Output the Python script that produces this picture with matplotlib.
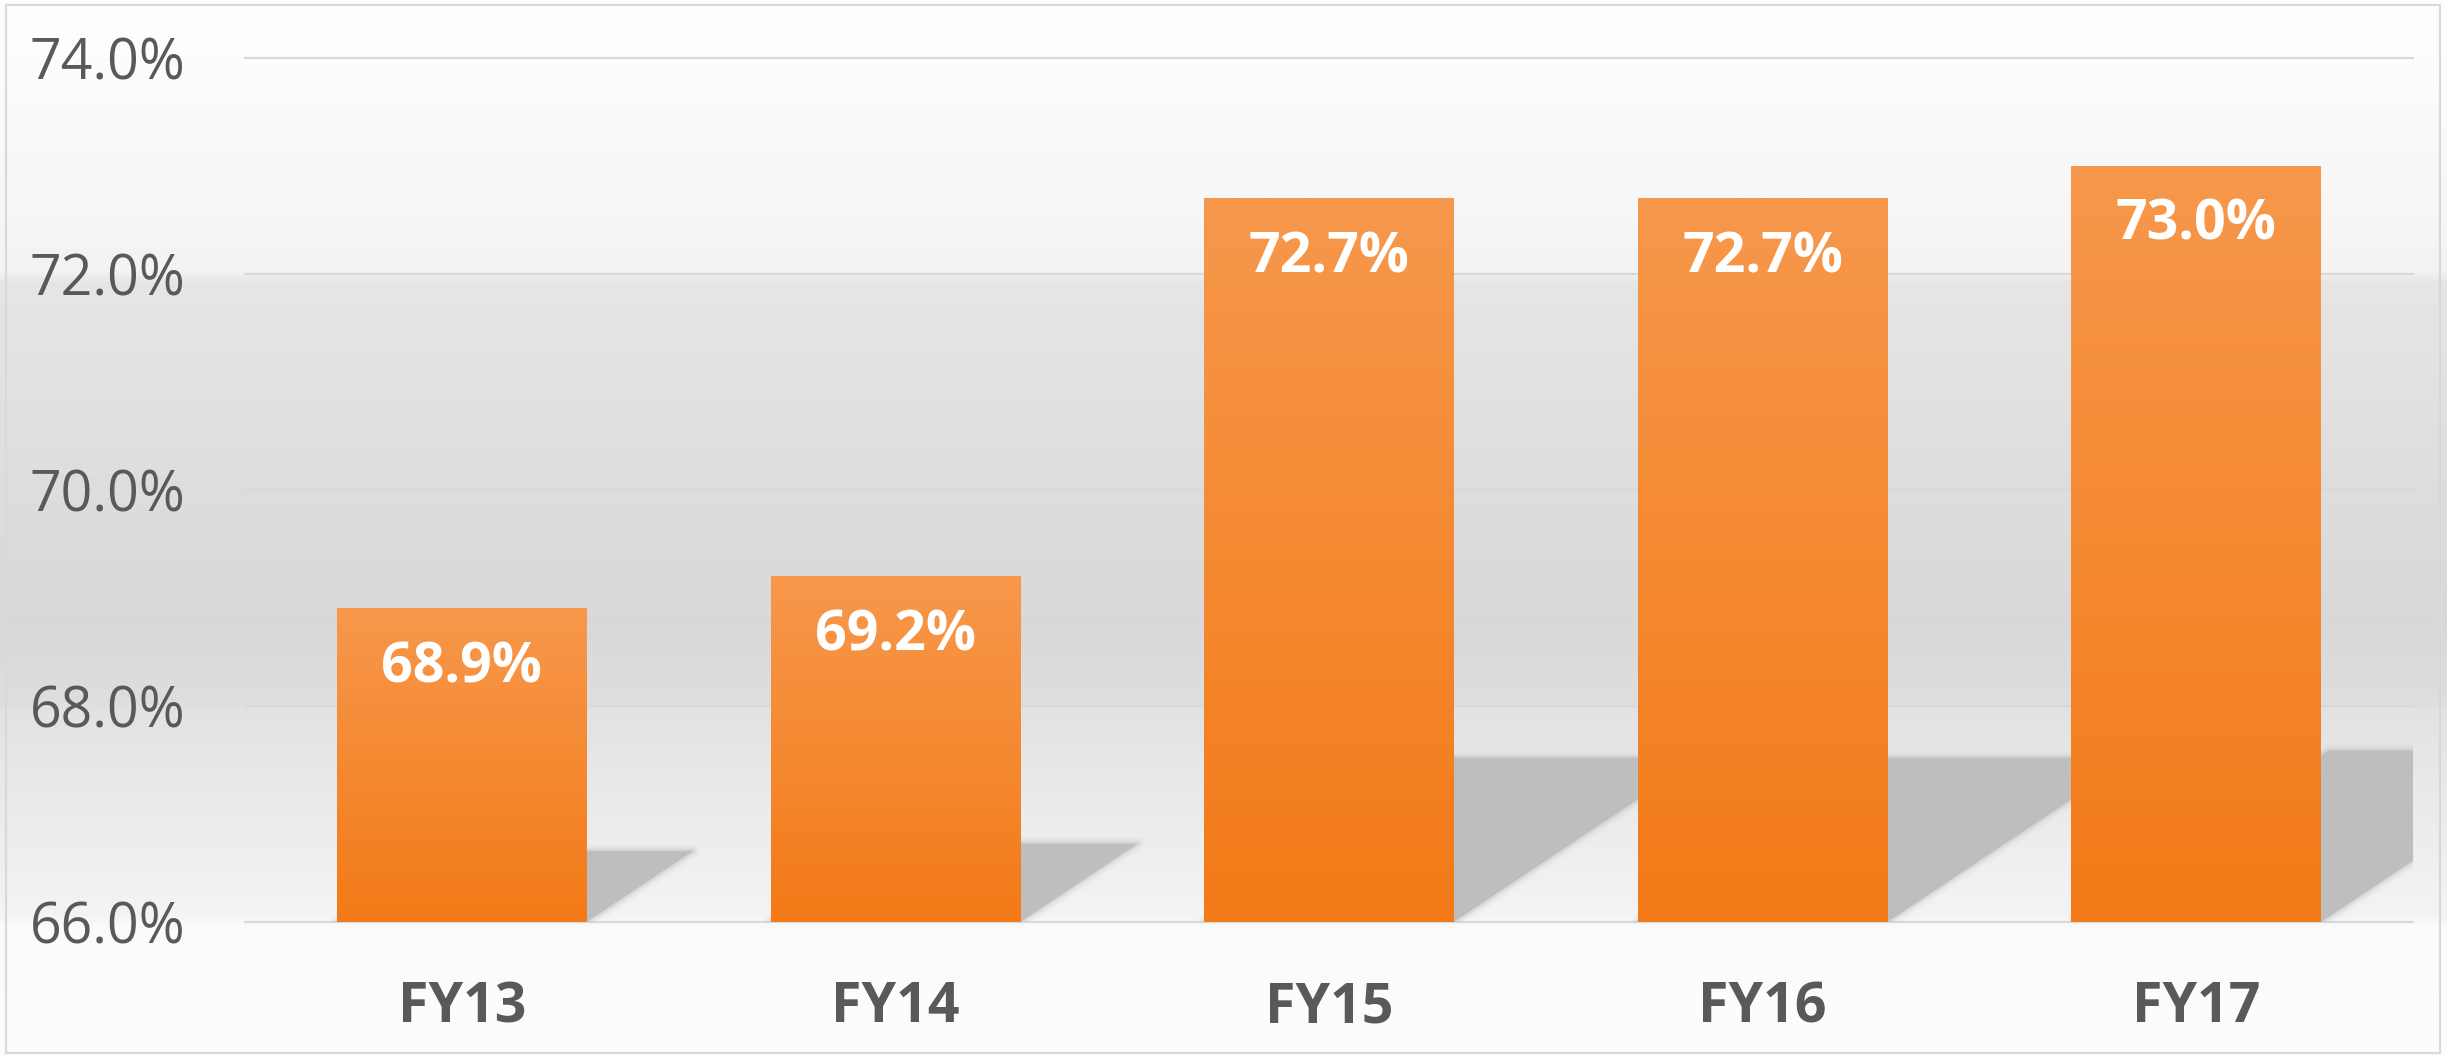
#!/usr/bin/env python3
"""
Rebuild the FY13-FY17 percentage bar chart (orange bars with cast shadows).
Output: out.png
"""
import numpy as np
import matplotlib
matplotlib.use("Agg")
import matplotlib.pyplot as plt
from matplotlib.colors import LinearSegmentedColormap
from matplotlib.patches import Polygon, Rectangle

years = ["FY13", "FY14", "FY15", "FY16", "FY17"]
rates = [68.9, 69.2, 72.7, 72.7, 73.0]
y_ticks = [66, 68, 70, 72, 74]

BAR_TOP = "#F7984C"
BAR_BOTTOM = "#F37A17"
TEXT_GRAY = "#595959"
GRID = "#D9D9D9"
SHADOW = "#BEBEBE"

W, H, DPI = 2447, 1057, 100


def main():
    plt.rcParams["font.family"] = ["Open Sans", "DejaVu Sans"]

    fig = plt.figure(figsize=(W / DPI, H / DPI), dpi=DPI)

    # background: vertical grey gradient over the whole chart
    bg = fig.add_axes([0, 0, 1, 1], zorder=-5)
    ys = np.array([0, 58, 270, 282, 450, 620, 700, 712, 915, 926, 1057])
    lv = np.array([253, 252, 243, 229, 222, 216, 221, 226, 243, 250, 252]) / 255
    col = np.interp(np.arange(H), ys, lv)
    img = np.repeat(col[:, None], 4, axis=1)
    bg.imshow(img, cmap="gray", vmin=0, vmax=1, aspect="auto",
              extent=[0, 1, 0, 1], origin="upper")
    bg.axis("off")
    fig.patches.append(Rectangle((0.0026, 0.004), 0.9944, 0.991,
                                 transform=fig.transFigure, fill=False,
                                 edgecolor=GRID, linewidth=1.6))

    ax = fig.add_axes([245 / W, 1 - 922 / H, (2413 - 245) / W, (922 - 58) / H])
    ax.set_facecolor("none")
    ax.set_xlim(-0.5, len(years) - 0.5)
    ax.set_ylim(y_ticks[0], y_ticks[-1])

    width = 0.576
    base = y_ticks[0]
    bar_cmap = LinearSegmentedColormap.from_list("bar", [BAR_BOTTOM, BAR_TOP])
    grad = np.linspace(0, 1, 256).reshape(-1, 1)

    to_px = ax.transData.transform
    to_data = ax.transData.inverted().transform

    for i, v in enumerate(rates):
        x0, x1 = i - width / 2, i + width / 2
        ax.imshow(grad, cmap=bar_cmap, aspect="auto", origin="lower",
                  extent=[x0, x1, base, v], zorder=3)

        # sheared shadow cast to the right of the bar
        (pl, pb), (pr, pt) = to_px([(x0, base), (x1, v)])
        hs = 0.227 * (pt - pb)
        dx = 1.5 * hs
        pts = to_data([(pl, pb), (pr, pb), (pr + dx, pb + hs), (pl + dx, pb + hs)])
        for lw, a in [(10, 0.08), (6, 0.15), (3, 0.3)]:
            ax.add_patch(Polygon(pts, closed=True, facecolor="none",
                                 edgecolor=SHADOW, linewidth=lw, alpha=a,
                                 zorder=2, joinstyle="round"))
        ax.add_patch(Polygon(pts, closed=True, facecolor=SHADOW,
                             edgecolor="none", zorder=2.1))

        ax.annotate(f"{v:.1f}%", xy=(i, v), xytext=(0, -53),
                    textcoords="offset points", ha="center", va="baseline",
                    color="white", fontsize=40, fontweight="bold", zorder=5)

    ax.set_xticks(range(len(years)))
    ax.set_xticklabels(years, fontweight="bold")
    ax.set_yticks(y_ticks)
    ax.set_yticklabels([f"{t:.1f}%" for t in y_ticks])
    ax.tick_params(axis="x", length=0, pad=42, labelsize=40, labelcolor=TEXT_GRAY)
    ax.tick_params(axis="y", length=0, pad=43, labelsize=40, labelcolor=TEXT_GRAY)

    ax.set_axisbelow(True)
    ax.yaxis.grid(True, color=GRID, linewidth=1.6)
    for line in ax.get_ygridlines():
        line.set_clip_on(False)
    for spine in ax.spines.values():
        spine.set_visible(False)

    fig.savefig("out.png", dpi=DPI)
    plt.close(fig)


if __name__ == "__main__":
    main()
